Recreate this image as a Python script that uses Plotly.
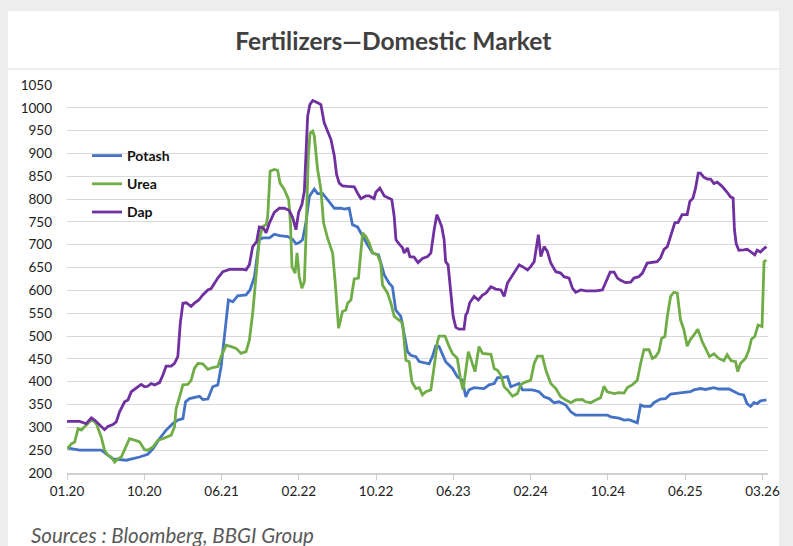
import plotly.graph_objects as go

# ---------------- data (x = weeks since Jan 2020) ----------------
tick_weeks = [0, 35, 70, 105, 140, 175, 210, 245, 280, 315]
tick_labels = ["01.20", "10.20", "06.21", "02.22", "10.22", "06.23", "02.24", "10.24", "06.25", "03.26"]

potash_w = [0, 5.7, 15.5, 20.8, 26.8, 32.9, 36.6, 38.9, 41.9, 44.9, 47.9, 50.2, 52.5, 53.7, 55.5, 60, 61.5, 63.8,
            66, 68.3, 69.8, 71.3, 73.1, 75.1, 77.3, 81.1, 82.9, 84.9, 87.1, 88.6, 91.7, 93.9, 96.2, 100, 102.2,
            103.7, 105.2, 106.7, 108.2, 109.8, 112, 113.5, 115.8, 118, 121.1, 124.1, 125.6, 127.8, 129.3, 131.6,
            133.9, 136.1, 138.4, 141.1, 143.7, 145.9, 147.4, 148.9, 151.2, 152.7, 154.2, 155.7, 158, 159.5, 164,
            165.5, 167, 168.5, 170, 171.5, 174.6, 176.8, 179.1, 180.6, 182.1, 184.4, 188.9, 191.2, 193.5, 195,
            197.3, 199.5, 201, 203.3, 204.8, 206.3, 210.8, 213.8, 216.1, 218.4, 220.6, 222.9, 225.9, 228.2, 230.4,
            244.7, 246.3, 250, 252.3, 254.5, 256.8, 258.3, 259.8, 261.3, 264.3, 265.8, 268.8, 271.1, 273.4, 276.4,
            278.6, 282.4, 283.9, 286.9, 289.2, 293, 295.2, 299.8, 302, 304.3, 306.5, 308, 309.6, 311.1, 312.6,
            314.1, 316.8]
potash = [255, 250, 250, 231, 228, 235, 241, 253, 275, 294, 308, 316, 319, 356, 363, 368, 361, 362,
          389, 393, 433, 499, 579, 575, 588, 590, 601, 630, 711, 715, 715, 723, 720, 718, 712,
          702, 705, 711, 748, 806, 822, 812, 812, 799, 780, 780, 778, 780, 744, 739,
          718, 700, 682, 678, 634, 616, 608, 557, 543, 506, 466, 458, 455, 444, 439,
          455, 478, 477, 462, 444, 429, 411, 403, 367, 382, 387, 385, 393, 396, 409,
          409, 411, 389, 393, 396, 382, 382, 378, 367, 363, 354, 356, 349, 334, 327,
          327, 323, 320, 316, 317, 312, 310, 349, 346, 346, 354, 362, 363, 373, 374,
          376, 378, 382, 385, 383, 387, 384, 384, 378, 373, 371, 352, 346, 354, 352,
          358, 360]

urea_w = [0, 2, 3.5, 5, 6.5, 8, 10.3, 11.8, 13.3, 15.5, 17, 18.5, 20, 21.6, 23.1, 24.6, 26.1, 28.3, 30.6, 32.9,
          35.1, 36.6, 38.9, 41.2, 43.4, 45.7, 47.2, 48.7, 49.4, 51, 52.5, 54.7, 56.2, 57.7, 59.3, 61.5, 63.8, 66,
          68.3, 69.8, 72.1, 74.3, 76.6, 78.8, 81.1, 82.6, 84.1, 85.6, 87.1, 88.6, 90.2, 90.9, 92, 93.9, 95.4,
          96.5, 98.4, 100.4, 101.2, 101.9, 103.3, 104.2, 105.2, 106.4, 107.5, 108.2, 109.3, 110.1, 111.3, 112,
          113.5, 115, 116.2, 118, 120.3, 121.5, 123, 124.8, 126.3, 127.1, 128.6, 130.1, 132, 133.9, 135.4,
          136.9, 138.4, 140.6, 142.1, 142.9, 145.2, 146.7, 148.2, 150.4, 152, 153.5, 155, 156.2, 158, 159.5,
          161, 162.5, 164.8, 166.3, 167.8, 168.5, 171.2, 173.1, 174.6, 176.8, 178.3, 179.4, 180.3, 181.8,
          183.3, 184.8, 186.6, 188.2, 192, 193.5, 195, 196.5, 198, 199.5, 201.8, 204, 205.5, 207, 210, 211.6,
          213.1, 215.3, 216.9, 219.1, 221.4, 223.6, 225.9, 228.2, 230.4, 233.4, 234.9, 237.2, 239.5, 241.7,
          243.2, 244.7, 247.8, 250, 252.3, 253.8, 256, 258.3, 259.8, 261.3, 263.6, 265.1, 266.6, 268.1, 269.3,
          270.8, 271.9, 273.4, 274.9, 276.4, 277.9, 279.4, 280.9, 282.4, 283.9, 285.7, 287.7, 289.5, 291, 293,
          295.2, 297.5, 299, 300.8, 302.8, 303.8, 305, 307.3, 308.8, 310, 311.5, 313, 314.8, 315.7, 316.8]
urea = [253, 264, 268, 297, 294, 301, 313, 316, 308, 279, 250, 239, 235, 224, 231, 235, 253, 275, 272, 268,
        251, 250, 257, 272, 275, 280, 283, 301, 341, 367, 393, 394, 403, 429, 440, 439, 427, 431,
        433, 455, 480, 477, 473, 462, 466, 491, 550, 630, 711, 740, 744, 762, 861, 865, 863,
        835, 821, 799, 748, 652, 638, 682, 630, 605, 619, 711, 894, 945, 949, 938,
        865, 821, 748, 715, 682, 616, 517, 554, 557, 572, 579, 625, 627, 726, 718,
        704, 682, 678, 660, 612, 594, 572, 543, 535, 528, 447, 444, 400, 385, 387,
        371, 378, 382, 433, 488, 500, 500, 477, 462, 451, 403, 382, 418, 466,
        444, 422, 477, 462, 460, 429, 425, 414, 389, 382, 368, 374, 393, 398, 403, 440,
        456, 456, 425, 396, 385, 367, 360, 354, 360, 361, 356, 354, 360, 365,
        390, 378, 374, 376, 375, 387, 393, 403, 440, 470, 470, 451, 455, 466, 495,
        499, 543, 587, 596, 594, 535, 514, 478, 493, 502, 515, 488, 469, 455, 461,
        451, 446, 459, 446, 444, 422, 440, 451, 469, 493, 499, 524, 521, 663, 666]

dap_w = [0, 5.7, 8.7, 11, 12.5, 14.8, 17, 18.5, 20.8, 22.3, 23.8, 26.1, 27.6, 29.1, 32.1, 33.6, 35.1, 36.6, 38.1,
         39.7, 41.9, 43.4, 44.9, 47.2, 48.7, 50.2, 51.3, 52.5, 54, 56.2, 57.7, 59.7, 61.5, 63.8, 65.3, 66.8,
         68.3, 70.6, 73.6, 79.6, 81.1, 82.6, 84.1, 85.9, 87.1, 88.9, 90.2, 91.7, 93.9, 96.2, 98.4, 100.7, 102.2,
         103.7, 104.9, 106.4, 107.5, 108.2, 109, 110, 111.3, 113.5, 115, 116.5, 118, 119.6, 121.1, 122.1, 123.3,
         124.8, 127.1, 130.1, 131.6, 133.1, 135.4, 136.9, 139.1, 139.9, 141.7, 143.7, 145.9, 147.1, 148.2, 149,
         150.4, 152, 152.7, 154.2, 155.3, 157.2, 159, 161, 163.3, 164.8, 166.3, 167.5, 168.5, 169.7, 170.8,
         171.5, 172.6, 173.8, 174.9, 176.1, 177.6, 179.8, 180.6, 181.3, 182.4, 184.4, 186.3, 188.2, 189.7, 192,
         194.2, 196.5, 198, 199.5, 201, 202.5, 204.8, 206.3, 208.6, 210, 211.6, 213.5, 214.6, 216.1, 217.6,
         219.1, 221.4, 223.6, 225.1, 227.4, 228.9, 230.4, 232.7, 235, 239.5, 242.5, 244, 246, 247.8, 249.3,
         250.8, 252.3, 253, 255.3, 256.8, 259, 260.6, 262.8, 265.1, 267.3, 268.8, 270.4, 271.9, 273.4, 275.3,
         276.8, 278.6, 280.9, 282.1, 283.5, 284.7, 285.9, 286.9, 288.4, 290, 291.5, 293, 294.5, 296.7, 299,
         300.5, 301.7, 302.3, 303.1, 304.3, 306.5, 308, 309.6, 311.5, 312.6, 314.1, 315.3, 316.8]
dap = [313, 313, 308, 321, 316, 305, 295, 302, 306, 312, 334, 356, 360, 378, 389, 394, 389, 390, 396,
       393, 398, 414, 434, 434, 440, 455, 528, 572, 573, 565, 572, 579, 590, 601, 604, 616,
       627, 641, 646, 646, 645, 656, 696, 707, 739, 737, 726, 748, 771, 780, 780, 775, 760,
       733, 771, 788, 817, 894, 982, 1007, 1016, 1011, 1007, 967, 949, 930, 894, 854, 835,
       829, 828, 827, 813, 801, 807, 807, 801, 815, 824, 807, 802, 799, 762, 711,
       702, 693, 682, 693, 674, 673, 661, 670, 674, 682, 733, 766, 755, 740, 711,
       663, 656, 601, 543, 519, 515, 515, 546, 551, 573, 587, 579, 590, 594, 608,
       603, 601, 587, 616, 627, 638, 656, 652, 645, 652, 663, 722, 674, 696, 685,
       660, 641, 638, 630, 627, 605, 596, 601, 599, 599, 601, 619, 640, 640, 627,
       622, 619, 617, 618, 627, 630, 638, 660, 662, 663, 671, 690, 696, 718, 748,
       749, 766, 766, 795, 802, 824, 857, 857, 848, 844, 844, 834, 837, 828, 815,
       805, 802, 733, 702, 688, 689, 690, 685, 678, 688, 684, 690, 696]

series_names = ["Potash", "Urea", "Dap"]
series_colors = ["#4472C4", "#70AD47", "#7030A0"]

title_text = "Fertilizers\u2014Domestic Market"
source_text = "Sources : Bloomberg, BBGI Group"

# ---------------- layout geometry ----------------
W, H = 793, 546
ML, MR, MT, MB = 67, 25, 85, 73
PW, PH = W - ML - MR, H - MT - MB


def px2x(px):
    return (px - ML) / PW


def py2y(py):
    return (H - MB - py) / PH


FONT = "Lato, 'Open Sans', sans-serif"

fig = go.Figure()
for i, (xs, ys) in enumerate([(potash_w, potash), (urea_w, urea), (dap_w, dap)]):
    fig.add_trace(go.Scatter(
        x=xs, y=ys, mode="lines", name=series_names[i],
        line=dict(color=series_colors[i], width=2.8),
        legendgroup=series_names[i],
    ))

shapes = [
    # title card
    dict(type="rect", xref="paper", yref="paper", x0=px2x(8), x1=px2x(779), y0=py2y(68), y1=py2y(11),
         fillcolor="white", line_width=0, layer="below"),
    # chart card
    dict(type="rect", xref="paper", yref="paper", x0=px2x(8), x1=px2x(779), y0=py2y(546), y1=py2y(70),
         fillcolor="white", line_width=0, layer="below"),
]

fig.update_layout(
    width=W, height=H,
    margin=dict(l=ML, r=MR, t=MT, b=MB, autoexpand=False),
    paper_bgcolor="#ededed",
    plot_bgcolor="rgba(0,0,0,0)",
    shapes=shapes,
    title=dict(text="<b>" + title_text + "</b>", x=0.496, xref="container", xanchor="center",
               y=1 - 41 / H, yanchor="middle",
               font=dict(family=FONT, size=24.5, color="#404040")),
    showlegend=True,
    legend=dict(x=px2x(87), y=py2y(140), xanchor="left", yanchor="top",
                bgcolor="rgba(0,0,0,0)", tracegroupgap=7,
                font=dict(family=FONT, size=14, color="#111111", weight="bold")),
    xaxis=dict(range=[0, 317.5], tickmode="array", tickvals=tick_weeks, ticktext=tick_labels,
               showgrid=False, zeroline=False, showline=True, linecolor="#d0d0d0", linewidth=1.5,
               ticks="outside", ticklen=5, tickcolor="#d0d0d0", tickwidth=1.2,
               tickfont=dict(family=FONT, size=13.5, color="#222222")),
    yaxis=dict(range=[200, 1050], dtick=50, tick0=200, showgrid=True, gridcolor="#d9d9d9", gridwidth=1.3,
               zeroline=False, showline=False, ticks="", ticklabelstandoff=14,
               tickfont=dict(family=FONT, size=13.5, color="#222222")),
    annotations=[dict(text="<i>" + source_text + "</i>", xref="paper", yref="paper",
                      x=px2x(29), y=py2y(535), xanchor="left", yanchor="middle", showarrow=False,
                      font=dict(family=FONT, size=20.5, color="#595959"))],
)

fig.write_html("out.html", config={"displayModeBar": False},
               post_script="document.body.style.margin='0';document.body.style.overflow='hidden';")
